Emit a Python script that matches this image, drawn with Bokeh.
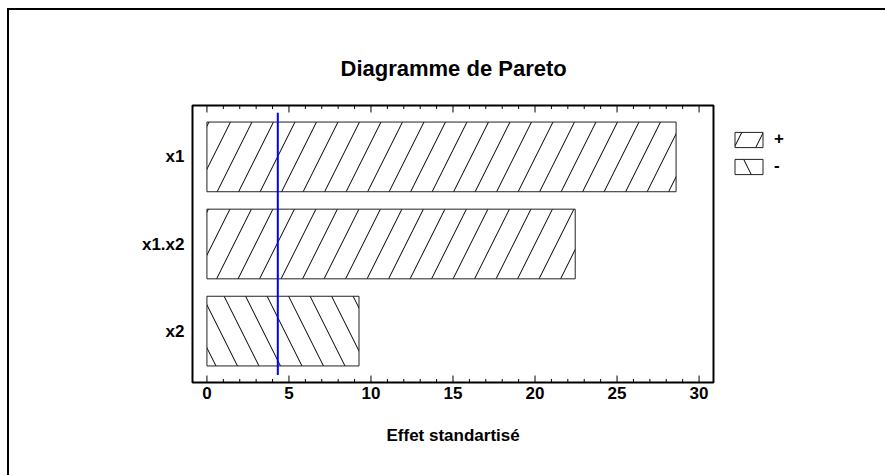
from bokeh.plotting import figure
from bokeh.models import (Range1d, FactorRange, LinearAxis, Legend, LegendItem,
                          ColumnDataSource, Title)
from bokeh.embed import file_html
from bokeh.resources import INLINE

# data
pos_factors = ["x1", "x1.x2"]
pos_effects = [28.6, 22.45]
neg_factors = ["x2"]
neg_effects = [9.27]
factor_order = ["x2", "x1.x2", "x1"]
critical_value = 4.32
x_ticks = [0, 5, 10, 15, 20, 25, 30]
x_minor_ticks = [v for v in range(0, 31) if v % 5 != 0]
axis_min, axis_max = -0.88, 30.88

FONT = "Liberation Sans"

# the frame is wider than the drawn axes box so the legend can sit at its right
p = figure(width=885, height=475, output_backend="svg", toolbar_location=None,
           y_range=FactorRange(factors=factor_order, range_padding=0.113, range_padding_units="absolute"),
           x_range=Range1d(-1.002, 36.184),
           x_axis_location=None, y_axis_location="left",
           min_border_left=190, min_border_right=85, min_border_top=103, min_border_bottom=91)

p.title.text = "Diagramme de Pareto"
p.title.align = "left"
p.title.offset = 150
p.title.text_font = FONT
p.title.text_font_size = "22px"
p.title.text_font_style = "bold"
p.title.text_color = "black"
p.title.standoff = 45

p.grid.visible = False
p.outline_line_color = None
p.background_fill_color = "white"
p.border_fill_alpha = 0
p.styles = {"box-shadow": "inset 7px 8px 0 0 white, inset 9px 10px 0 0 black",
            "background-color": "white"}

src_pos = ColumnDataSource(dict(y=pos_factors, right=pos_effects))
src_neg = ColumnDataSource(dict(y=neg_factors, right=neg_effects))

common = dict(height=0.8, left=0, fill_color="white", line_color="#222222", line_width=1,
              hatch_color="black", hatch_weight=1, hatch_scale=43)
r_pos = p.hbar(y="y", right="right", source=src_pos, hatch_pattern="/", **common)
r_neg = p.hbar(y="y", right="right", source=src_neg, hatch_pattern="\\", **common)

p.segment(x0=[critical_value], x1=[critical_value], y0=[("x2", -0.505)], y1=[("x1", 0.508)],
          line_color="#0000ff", line_width=2)

# axes box and inward tick marks
bottom_edge = ("x2", -0.59)
top_edge = ("x1", 0.59)
p.quad(left=[axis_min], right=[axis_max], bottom=[bottom_edge], top=[top_edge],
       fill_alpha=0, line_color="black", line_width=2)
p.segment(x0=x_ticks, x1=x_ticks, y0=[bottom_edge] * len(x_ticks),
          y1=[("x2", -0.51)] * len(x_ticks), line_color="black", line_width=1)
p.segment(x0=x_minor_ticks, x1=x_minor_ticks, y0=[bottom_edge] * len(x_minor_ticks),
          y1=[("x2", -0.55)] * len(x_minor_ticks), line_color="black", line_width=1)
p.segment(x0=x_ticks, x1=x_ticks, y0=[top_edge] * len(x_ticks),
          y1=[("x1", 0.51)] * len(x_ticks), line_color="black", line_width=1)
p.segment(x0=x_minor_ticks, x1=x_minor_ticks, y0=[top_edge] * len(x_minor_ticks),
          y1=[("x1", 0.55)] * len(x_minor_ticks), line_color="black", line_width=1)

# axes
yax = p.yaxis[0]
yax.axis_line_color = None
yax.major_tick_line_color = None
yax.minor_tick_line_color = None
yax.major_tick_out = 0
yax.major_tick_in = 0
yax.minor_tick_out = 0
yax.major_label_text_font = FONT
yax.major_label_text_font_size = "17px"
yax.major_label_text_font_style = "bold"
yax.major_label_text_color = "black"
yax.major_label_standoff = 6

xb = LinearAxis(ticker=x_ticks)
xb.axis_line_color = None
xb.major_tick_line_color = None
xb.minor_tick_line_color = None
xb.major_tick_in = 0
xb.major_tick_out = 0
xb.minor_tick_in = 0
xb.minor_tick_out = 0
xb.major_label_text_font = FONT
xb.major_label_text_font_size = "17px"
xb.major_label_text_font_style = "bold"
xb.major_label_text_color = "black"
xb.major_label_standoff = 2
p.add_layout(xb, "below")

xlabel = Title(text="Effet standartisé", align="left", offset=196, standoff=45,
               text_font=FONT, text_font_size="17px", text_font_style="bold", text_color="black")
p.add_layout(xlabel, "below")

legend = Legend(items=[LegendItem(label="+", renderers=[r_pos]),
                       LegendItem(label="-", renderers=[r_neg])],
                location=(541, 208), orientation="vertical",
                glyph_width=35, glyph_height=19, label_height=20, spacing=7,
                label_text_font=FONT, label_text_font_size="17px", label_text_font_style="bold",
                label_text_color="black",
                border_line_color=None, background_fill_alpha=0, padding=0, margin=0,
                label_standoff=8)
p.add_layout(legend, "center")

open("out.html", "w").write(file_html(p, INLINE))
